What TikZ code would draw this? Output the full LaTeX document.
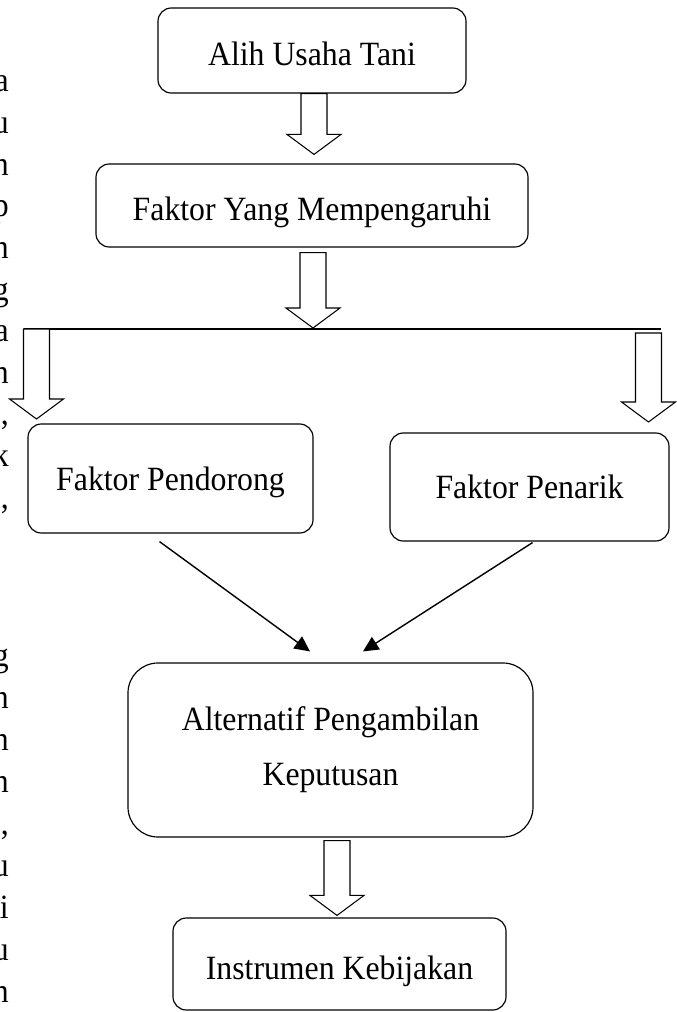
\documentclass[tikz,border=0pt]{standalone}
\usepackage{fontspec}
\setmainfont{Liberation Serif}[FakeStretch=0.935]
\usetikzlibrary{calc,positioning,arrows.meta}

\tikzset{
  box/.style={draw, rounded corners=0.4cm, line width=1pt, font=\fontsize{29}{35}\selectfont},
  tag/.style={box, text height=26pt, text depth=0pt},
  hollow/.style={draw, line width=0.9pt, fill=white},
  link/.style={line width=1.2pt, -{Triangle[length=0.46cm,width=0.44cm]}},
  margin/.style={anchor=base east, inner sep=0pt, font=\fontsize{29}{35}\selectfont}
}
% hollow block arrow from #1 (top of shaft) down to #2 (tip)
\newcommand{\hollowarrow}[2]{%
  \draw[hollow] ($(#1)+(-13,0)$) -- ($(#2)+(-13,-20)$) -- ($(#2)+(-27,-20)$) -- (#2)
    -- ($(#2)+(27,-20)$) -- ($(#2)+(13,-20)$) -- ($(#1)+(13,0)$) -- cycle;}

\begin{document}
\begin{tikzpicture}[x=0.03cm,y=-0.03cm]
	\useasboundingbox (0,0) rectangle (677,1012);
	% cut-off paragraph on the left
	\foreach \ch [count=\i] in {a,u,n,p,n,g,a,n,{,},k,{,}}
		\node[margin] (top\i) at (9,50.4+41.6*\i) {\ch};
	\foreach \ch [count=\i] in {g,n,n,n,{,},u,i,u,n}
		\node[margin] (bot\i) at (9,624+42*\i) {\ch};

	% boxes
	\node[tag, minimum width=9.24cm, minimum height=2.55cm] (alih) at (312,50.5) {Alih Usaha Tani};
	\node[tag, minimum width=12.96cm, minimum height=2.49cm] (faktor) at (312,205.5) {Faktor Yang Mempengaruhi};
	\node[tag, text height=20pt, minimum width=8.55cm, minimum height=3.27cm] (pendorong) at (170.5,478.5) {Faktor Pendorong};
	\node[tag, text height=20pt, minimum width=8.37cm, minimum height=3.24cm] (penarik) at (529.5,487) {Faktor Penarik};
	\node[box, rounded corners=0.9cm, align=center, minimum width=12.15cm, minimum height=5.22cm,
		font=\fontsize{29}{47}\selectfont] (alternatif) at (330.5,750) {Alternatif Pengambilan\\Keputusan};
	\node[tag, minimum width=9.99cm, minimum height=2.76cm] (instrumen) at (339.5,964) {Instrumen Kebijakan};

	% block arrows
	\coordinate (a1) at ($(alih.south)+(2,0)$);
	\coordinate (a1tip) at ($(faktor.north)+(2,-9)$);
	\hollowarrow{a1}{a1tip}
	\coordinate (a2) at ($(faktor.south)+(1,5)$);
	\coordinate (a2tip) at (313,328);
	\coordinate (busL) at (24,329);
	\coordinate (busR) at (661,329);
	\draw[line width=0.9pt] (busL) -- (busR);
	\hollowarrow{a2}{a2tip}
	\coordinate (bl) at (36.5,329);
	\coordinate (bltip) at (36.5,419);
	\hollowarrow{bl}{bltip}
	\coordinate (br) at (648.5,333);
	\coordinate (brtip) at (648.5,422);
	\hollowarrow{br}{brtip}
	\coordinate (a4) at ($(alternatif.south)+(6.5,3)$);
	\coordinate (a4tip) at ($(instrumen.north)+(-2.5,-2)$);
	\hollowarrow{a4}{a4tip}

	% thin arrows
	\coordinate (p1) at ($(pendorong.south)+(-11,8)$);
	\coordinate (p2) at ($(penarik.south)+(3,1)$);
	\coordinate (q1) at ($(alternatif.north)+(-20.5,-11)$);
	\coordinate (q2) at ($(alternatif.north)+(32.5,-11)$);
	\draw[link] (p1) -- (q1);
	\draw[link] (p2) -- (q2);
\end{tikzpicture}
\end{document}
